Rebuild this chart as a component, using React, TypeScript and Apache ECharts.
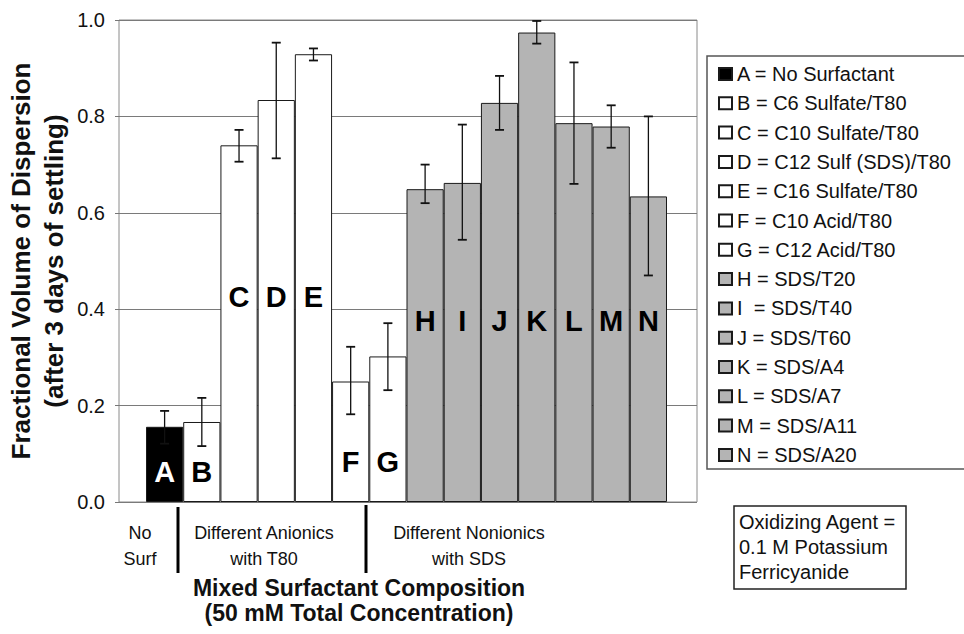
import React, { useEffect, useRef } from "react";
import * as echarts from "echarts";

const letters = ["A", "B", "C", "D", "E", "F", "G", "H", "I", "J", "K", "L", "M", "N"];
const legendNames = [
  "A = No Surfactant",
  "B = C6 Sulfate/T80",
  "C = C10 Sulfate/T80",
  "D = C12 Sulf (SDS)/T80",
  "E = C16 Sulfate/T80",
  "F = C10 Acid/T80",
  "G = C12 Acid/T80",
  "H = SDS/T20",
  "I  = SDS/T40",
  "J = SDS/T60",
  "K = SDS/A4",
  "L = SDS/A7",
  "M = SDS/A11",
  "N = SDS/A20",
];
const groups = ["none", "anionic", "anionic", "anionic", "anionic", "anionic", "anionic",
  "nonionic", "nonionic", "nonionic", "nonionic", "nonionic", "nonionic", "nonionic"];
const values = [0.156, 0.166, 0.740, 0.834, 0.929, 0.250, 0.302, 0.649, 0.662, 0.828, 0.974, 0.786, 0.779, 0.634];
const errHigh = [0.189, 0.216, 0.772, 0.953, 0.941, 0.322, 0.371, 0.700, 0.783, 0.884, 0.998, 0.912, 0.823, 0.800];
const errLow = [0.121, 0.116, 0.706, 0.713, 0.916, 0.182, 0.232, 0.620, 0.544, 0.772, 0.951, 0.660, 0.735, 0.470];
const letterY = [0.063, 0.063, 0.425, 0.425, 0.425, 0.082, 0.084, 0.376, 0.376, 0.376, 0.376, 0.376, 0.376, 0.376];
const yTicks = [0, 0.2, 0.4, 0.6, 0.8, 1.0];
const groupLabels = ["No\nSurf", "Different Anionics\nwith T80", "Different Nonionics\nwith SDS"];
const xTitle = "Mixed Surfactant Composition\n(50 mM Total Concentration)";
const yTitle = "Fractional Volume of Dispersion\n(after 3 days of settling)";
const noteText = "Oxidizing Agent =\n0.1 M Potassium\nFerricyanide";

const FONT = "'Liberation Sans', Arial, Helvetica, sans-serif";
const fillFor: Record<string, string> = { none: "#000000", anionic: "#ffffff", nonionic: "#b4b4b4" };
const letterColor: Record<string, string> = { none: "#ffffff", anionic: "#000000", nonionic: "#000000" };

export default function App() {
  const ref = useRef<HTMLDivElement>(null);
  useEffect(() => {
    if (!ref.current) return;
    const chart = echarts.init(ref.current, undefined, { renderer: "svg" });

    const barSeries = letters.map((l, i) => ({
      name: legendNames[i],
      type: "bar",
      xAxisIndex: 1,
      yAxisIndex: 1,
      barWidth: "100%",
      barGap: "-100%",
      barCategoryGap: "0%",
      itemStyle: { color: fillFor[groups[i]], borderColor: "#1a1a1a", borderWidth: 1 },
      data: values.map((v, j) => (j === i ? v : "-")),
      z: 2,
    }));

    const option: any = {
      animation: false,
      textStyle: { fontFamily: FONT },
      grid: [
        { left: 119, top: 20, width: 578, height: 482, show: true, borderColor: "#8a8a8a", borderWidth: 1 },
        { left: 146, top: 20, width: 521, height: 482 },
      ],
      xAxis: [
        { type: "value", gridIndex: 0, min: 0, max: 1, show: false },
        {
          type: "category",
          gridIndex: 1,
          data: letters,
          axisLine: { show: false },
          axisTick: { show: false },
          axisLabel: { show: false },
        },
      ],
      yAxis: [
        {
          type: "value",
          gridIndex: 0,
          min: 0,
          max: 1,
          interval: 0.2,
          axisLine: { show: false },
          axisTick: { show: true, inside: false, length: 4, lineStyle: { color: "#777" } },
          axisLabel: {
            fontSize: 20,
            color: "#111",
            margin: 14,
            fontFamily: FONT,
            formatter: (v: number) => (yTicks.some((t) => Math.abs(t - v) < 1e-6) ? v.toFixed(1) : ""),
          },
          splitLine: { show: true, lineStyle: { color: "#7a7a7a", width: 1 } },
        },
        { type: "value", gridIndex: 1, min: 0, max: 1, show: false },
      ],
      legend: {
        orient: "vertical",
        left: 718,
        top: 64,
        padding: 0,
        itemWidth: 13,
        itemHeight: 12,
        itemGap: 9.3,
        icon: "rect",
        textStyle: { fontSize: 20, color: "#111", fontFamily: FONT, lineHeight: 20 },
        data: legendNames,
        selectedMode: false,
      },
      series: [
        ...barSeries,
        {
          type: "custom",
          xAxisIndex: 1,
          yAxisIndex: 1,
          z: 5,
          data: letters.map((_, i) => [i, errLow[i], errHigh[i]]),
          renderItem: (params: any, api: any) => {
            const x = api.value(0);
            const lo = api.coord([x, api.value(1)]);
            const hi = api.coord([x, api.value(2)]);
            const cw = 4.5;
            const st = { stroke: "#111", lineWidth: 1.3 };
            return {
              type: "group",
              children: [
                { type: "line", shape: { x1: lo[0], y1: lo[1], x2: hi[0], y2: hi[1] }, style: st },
                { type: "line", shape: { x1: hi[0] - cw, y1: hi[1], x2: hi[0] + cw, y2: hi[1] }, style: { stroke: "#111", lineWidth: 1.8 } },
                { type: "line", shape: { x1: lo[0] - cw, y1: lo[1], x2: lo[0] + cw, y2: lo[1] }, style: { stroke: "#111", lineWidth: 1.8 } },
              ],
            };
          },
        },
        {
          type: "custom",
          xAxisIndex: 1,
          yAxisIndex: 1,
          z: 6,
          data: letters.map((_, i) => [i, letterY[i]]),
          renderItem: (params: any, api: any) => {
            const i = params.dataIndex;
            const p = api.coord([api.value(0), api.value(1)]);
            return {
              type: "text",
              x: p[0],
              y: p[1],
              style: {
                text: letters[i],
                fill: letterColor[groups[i]],
                font: `bold 29px ${FONT}`,
                textAlign: "center",
                textVerticalAlign: "middle",
              },
            };
          },
        },
      ],
      graphic: [
        {
          type: "rect",
          shape: { x: 707, y: 56, width: 270, height: 413 },
          style: { fill: "none", stroke: "#555", lineWidth: 1.5 },
          z: -1,
        },
        {
          type: "rect",
          shape: { x: 734, y: 506, width: 172, height: 83 },
          style: { fill: "#fff", stroke: "#222", lineWidth: 1.5 },
        },
        {
          type: "text",
          x: 739,
          y: 547,
          style: {
            text: noteText,
            font: `20px ${FONT}`,
            fill: "#111",
            lineHeight: 25,
            textAlign: "left",
            textVerticalAlign: "middle",
          },
        },
        {
          type: "text",
          x: 37,
          y: 261,
          rotation: Math.PI / 2,
          style: {
            text: yTitle,
            font: `bold 26px ${FONT}`,
            fill: "#111",
            lineHeight: 33,
            textAlign: "center",
            textVerticalAlign: "middle",
          },
        },
        {
          type: "text",
          x: 359,
          y: 600,
          style: {
            text: xTitle,
            font: `bold 23px ${FONT}`,
            fill: "#111",
            lineHeight: 25,
            textAlign: "center",
            textVerticalAlign: "middle",
          },
        },
        {
          type: "text",
          x: 140,
          y: 546,
          style: { text: groupLabels[0], font: `18px ${FONT}`, fill: "#111", lineHeight: 26, textAlign: "center", textVerticalAlign: "middle" },
        },
        {
          type: "text",
          x: 264,
          y: 546,
          style: { text: groupLabels[1], font: `18px ${FONT}`, fill: "#111", lineHeight: 26, textAlign: "center", textVerticalAlign: "middle" },
        },
        {
          type: "text",
          x: 469,
          y: 546,
          style: { text: groupLabels[2], font: `18px ${FONT}`, fill: "#111", lineHeight: 26, textAlign: "center", textVerticalAlign: "middle" },
        },
        {
          type: "line",
          shape: { x1: 178, y1: 507, x2: 178, y2: 573 },
          style: { stroke: "#000", lineWidth: 3 },
        },
        {
          type: "line",
          shape: { x1: 366, y1: 505, x2: 366, y2: 573 },
          style: { stroke: "#000", lineWidth: 3 },
        },
      ],
    };
    chart.setOption(option);
    return () => chart.dispose();
  }, []);
  return (
    <div
      ref={ref}
      style={{ position: "fixed", left: 0, top: 0, width: 964, height: 634, background: "#fff" }}
    />
  );
}
